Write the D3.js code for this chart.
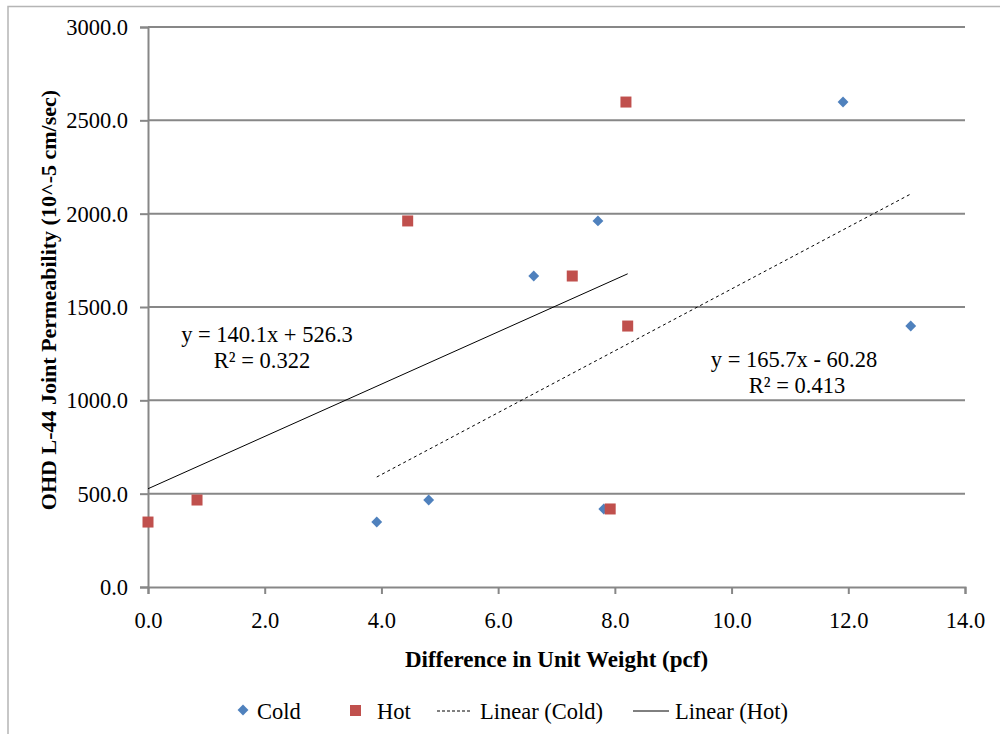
<!DOCTYPE html>
<html>
<head>
<meta charset="utf-8">
<script src="https://cdn.jsdelivr.net/npm/d3@7"></script>
<style>
  body { margin: 0; background: #fff; }
</style>
</head>
<body>
<div id="chart"></div>
<script>
// scatter data
const coldX = [3.92, 4.81, 6.61, 7.71, 7.81, 11.91, 13.07];
const coldY = [348, 466, 1666, 1961, 418, 2598, 1398];
const hotX = [0, 0.84, 4.45, 7.27, 7.92, 8.19, 8.22];
const hotY = [348, 466, 1961, 1666, 418, 2598, 1398];

// trendline coefficients as printed on the chart
const coldFit = { slope: 165.7, intercept: -60.28, label: "y = 165.7x - 60.28", r2: "R² = 0.413" };
const hotFit = { slope: 140.1, intercept: 526.3, label: "y = 140.1x + 526.3", r2: "R² = 0.322" };

const xTicks = [0, 2, 4, 6, 8, 10, 12, 14];
const yTicks = [0, 500, 1000, 1500, 2000, 2500, 3000];

const width = 1000, height = 734;
const margin = { top: 27, right: 35, bottom: 147, left: 148 };
const fontSize = "22.5px";
const serif = "Liberation Serif, Tinos, Times New Roman, DejaVu Serif, Noto Serif, serif";

const svg = d3.select("#chart").append("svg")
    .attr("width", width)
    .attr("height", height)
    .style("font-family", serif);

// outer chart frame
svg.append("rect")
    .attr("x", 8).attr("y", 6.5)
    .attr("width", 1010).attr("height", 760)
    .attr("fill", "none")
    .attr("stroke", "#b5b5b5")
    .attr("stroke-width", 1.5);

const x = d3.scaleLinear().domain([0, 14]).range([margin.left, width - margin.right]);
const y = d3.scaleLinear().domain([0, 3000]).range([height - margin.bottom, margin.top]);

// gridlines
svg.append("g")
    .selectAll("line")
    .data(yTicks.filter(d => d > 0))
    .join("line")
    .attr("x1", x(0)).attr("x2", x(14))
    .attr("y1", d => y(d)).attr("y2", d => y(d))
    .attr("stroke", "#878787")
    .attr("stroke-width", 2);

// axes
const yAxis = svg.append("g")
    .attr("transform", `translate(${x(0)},0)`)
    .call(d3.axisLeft(y).tickValues(yTicks).tickFormat(d3.format(".1f")).tickSize(8).tickPadding(12));
const xAxis = svg.append("g")
    .attr("transform", `translate(0,${y(0)})`)
    .call(d3.axisBottom(x).tickValues(xTicks).tickFormat(d3.format(".1f")).tickSize(7).tickPadding(18));

[xAxis, yAxis].forEach(g => {
    g.attr("font-family", null).attr("font-size", fontSize);
    g.select(".domain").attr("stroke", "#878787").attr("stroke-width", 2);
    g.selectAll(".tick line").attr("stroke", "#878787").attr("stroke-width", 2);
    g.selectAll(".tick text").attr("fill", "#000");
});
yAxis.selectAll(".tick text").attr("dy", "0.34em");

// axis titles
svg.append("text")
    .attr("x", (x(0) + x(14)) / 2)
    .attr("y", 667)
    .attr("text-anchor", "middle")
    .attr("font-weight", "bold")
    .attr("font-size", "23px")
    .text("Difference in Unit Weight (pcf)");

svg.append("text")
    .attr("transform", "translate(56,300) rotate(-90)")
    .attr("text-anchor", "middle")
    .attr("font-weight", "bold")
    .attr("font-size", "22px")
    .text("OHD L-44 Joint Permeability  (10^-5 cm/sec)");

// trendlines over each series' x range
const line = d3.line().x(d => x(d[0])).y(d => y(d[1]));
function fitPoints(xs, fit) {
    return d3.extent(xs).map(v => [v, fit.slope * v + fit.intercept]);
}
svg.append("path")
    .attr("d", line(fitPoints(coldX, coldFit)))
    .attr("fill", "none")
    .attr("stroke", "#000")
    .attr("stroke-width", 1)
    .attr("stroke-dasharray", "3,3");
svg.append("path")
    .attr("d", line(fitPoints(hotX, hotFit)))
    .attr("fill", "none")
    .attr("stroke", "#000")
    .attr("stroke-width", 1);

// markers
const diamond = d3.symbol().type(d3.symbolDiamond2).size(75);
svg.append("g")
    .selectAll("path")
    .data(d3.zip(coldX, coldY))
    .join("path")
    .attr("transform", d => `translate(${x(d[0])},${y(d[1])})`)
    .attr("d", diamond)
    .attr("fill", "#4f81bd");

svg.append("g")
    .selectAll("rect")
    .data(d3.zip(hotX, hotY))
    .join("rect")
    .attr("x", d => x(d[0]) - 5.5)
    .attr("y", d => y(d[1]) - 5.5)
    .attr("width", 11).attr("height", 11)
    .attr("fill", "#c0504d");

// equation labels
function eqLabel(fit, cx, yy, cx2) {
    const g = svg.append("g").attr("font-size", fontSize).attr("text-anchor", "middle");
    g.append("text").attr("x", cx).attr("y", yy).text(fit.label);
    g.append("text").attr("x", cx2).attr("y", yy + 26).text(fit.r2);
}
eqLabel(hotFit, 267, 342, 262);
eqLabel(coldFit, 794, 367, 797);

// legend
const legend = svg.append("g").attr("font-size", fontSize);
legend.append("path")
    .attr("transform", "translate(243,710)")
    .attr("d", diamond)
    .attr("fill", "#4f81bd");
legend.append("text").attr("x", 257).attr("y", 719).text("Cold");
legend.append("rect")
    .attr("x", 350).attr("y", 705).attr("width", 11).attr("height", 11)
    .attr("fill", "#c0504d");
legend.append("text").attr("x", 377).attr("y", 719).text("Hot");
legend.append("line")
    .attr("x1", 437).attr("x2", 472).attr("y1", 711).attr("y2", 711)
    .attr("stroke", "#000").attr("stroke-dasharray", "3,2");
legend.append("text").attr("x", 480).attr("y", 719).text("Linear (Cold)");
legend.append("line")
    .attr("x1", 633).attr("x2", 669).attr("y1", 711).attr("y2", 711)
    .attr("stroke", "#000");
legend.append("text").attr("x", 675).attr("y", 719).text("Linear (Hot)");
</script>
</body>
</html>
